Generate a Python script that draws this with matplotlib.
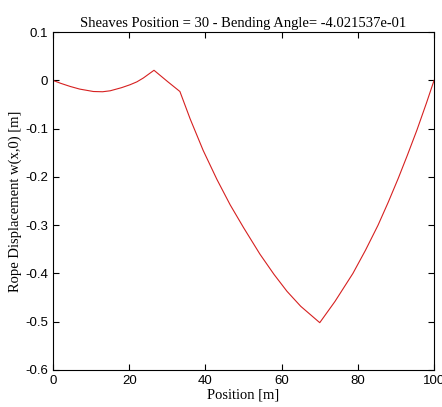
import matplotlib
matplotlib.use('Agg')
import matplotlib.pyplot as plt

# rope shape
position = [0, 2, 4.5, 7, 10.6, 13, 15, 18, 20.2, 22, 23.7, 26.5, 30, 33.3,
            36, 39.4, 43, 46.5, 50, 54.3, 58, 61.4, 65, 70,
            74, 78.7, 82, 85.3, 88, 90.6, 93, 95.5, 98, 100]
displacement = [0, -0.006, -0.0125, -0.018, -0.023, -0.0235, -0.0215, -0.015, -0.009, -0.003, 0.005, 0.021, -0.002, -0.023,
                -0.08, -0.145, -0.205, -0.258, -0.305, -0.36, -0.402, -0.437, -0.468, -0.502,
                -0.458, -0.40, -0.352, -0.30, -0.252, -0.203, -0.155, -0.103, -0.047, 0]

plt.figure(figsize=(4.42, 4.07), dpi=100)
ax = plt.axes([0.12, 0.091, 0.862, 0.83])
ax.plot(position, displacement, color='#d62020', linewidth=0.8)
ax.set_xlim(0, 100)
ax.set_ylim(-0.6, 0.1)
ax.set_xticks([0, 20, 40, 60, 80, 100])
ax.set_yticks([-0.6, -0.5, -0.4, -0.3, -0.2, -0.1, 0, 0.1])
ax.set_yticklabels(['-0.6', '-0.5', '-0.4', '-0.3', '-0.2', '-0.1', '0', '0.1'])
ax.tick_params(direction='in', top=True, right=True, length=4, labelsize=9.5)
for lab in ax.get_xticklabels() + ax.get_yticklabels():
    lab.set_family('Liberation Sans')
ax.set_xlabel('Position [m]', family='Liberation Serif', fontsize=10.5, labelpad=1)
ax.set_ylabel('Rope Displacement w(x,0) [m]', family='Liberation Serif', fontsize=10.5, labelpad=2)
ax.set_title('Sheaves Position = 30 - Bending Angle= -4.021537e-01', family='Liberation Serif', fontsize=10.5, pad=4)
plt.savefig('out.png')
